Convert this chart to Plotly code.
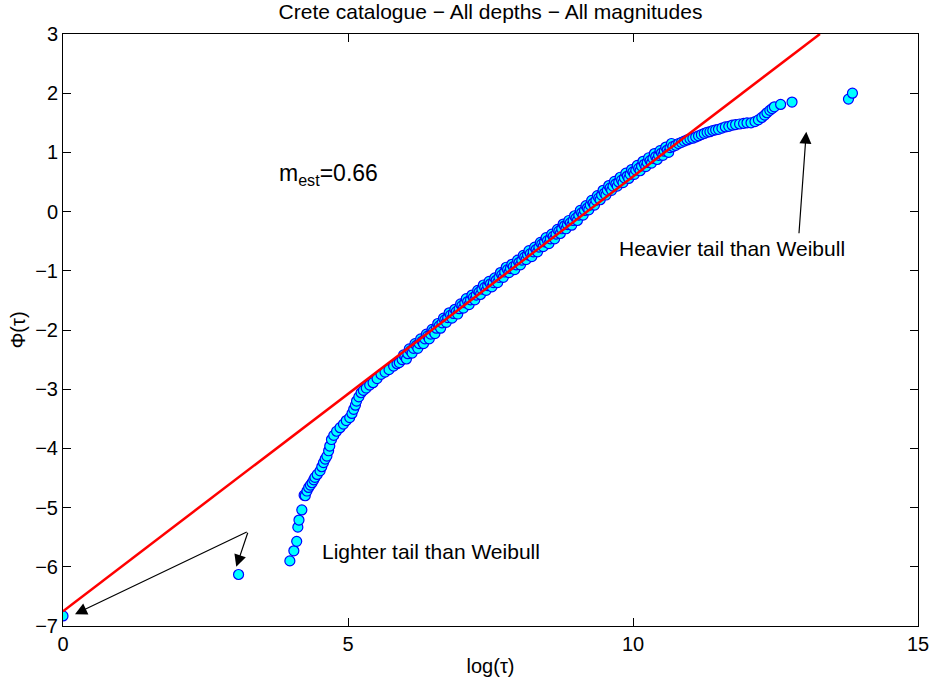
import plotly.graph_objects as go

# ---- data ----
tail_low_x = [0.00, 3.08, 3.98, 4.05, 4.10, 4.12, 4.14, 4.19, 4.23]
tail_low_y = [-6.83, -6.13, -5.90, -5.73, -5.57, -5.33, -5.21, -5.04, -4.79]

bend_x = [4.25, 4.28, 4.31, 4.34, 4.37, 4.40, 4.42, 4.46, 4.51, 4.54, 4.57, 4.60, 4.63,
          4.66, 4.68, 4.71, 4.75, 4.80, 4.86, 4.92, 4.97, 5.03, 5.07, 5.10, 5.13, 5.15,
          5.19, 5.23, 5.27, 5.32, 5.38, 5.44, 5.51, 5.58, 5.65, 5.72, 5.80, 5.86, 5.90]
bend_y = [-4.80, -4.72, -4.66, -4.62, -4.58, -4.53, -4.49, -4.44, -4.38, -4.31, -4.24, -4.18, -4.13,
          -4.04, -3.96, -3.85, -3.78, -3.71, -3.65, -3.59, -3.53, -3.48, -3.41, -3.34, -3.27, -3.20,
          -3.13, -3.06, -3.02, -2.98, -2.93, -2.89, -2.82, -2.75, -2.71, -2.67, -2.61, -2.57, -2.55]

mid_x = [5.95, 6.00, 6.05, 6.10, 6.15, 6.20, 6.25, 6.30, 6.35, 6.40, 6.45, 6.50, 6.55, 6.60,
         6.65, 6.70, 6.75, 6.80, 6.85, 6.90, 6.95, 7.00, 7.05, 7.10, 7.15, 7.20, 7.25, 7.30,
         7.35, 7.40, 7.45, 7.50, 7.55, 7.60, 7.65, 7.70, 7.75, 7.80, 7.85, 7.90, 7.95, 8.00,
         8.05, 8.10, 8.15, 8.20, 8.25, 8.30, 8.35, 8.40, 8.45, 8.50, 8.55, 8.60, 8.65, 8.70,
         8.75, 8.80, 8.85, 8.90, 8.95, 9.00, 9.05, 9.10, 9.15, 9.20, 9.25, 9.30, 9.35, 9.40,
         9.45, 9.50, 9.55, 9.60, 9.65, 9.70, 9.75, 9.80, 9.85, 9.90, 9.95, 10.00, 10.05, 10.10,
         10.15, 10.20, 10.25, 10.30, 10.35, 10.40, 10.45, 10.50, 10.55, 10.60, 10.65, 10.70]
mid_y = [-2.50, -2.45, -2.40, -2.35, -2.31, -2.26, -2.23, -2.19, -2.15, -2.10, -2.07, -2.02, -1.97, -1.93,
         -1.88, -1.83, -1.79, -1.75, -1.72, -1.69, -1.64, -1.59, -1.54, -1.52, -1.49, -1.45, -1.41, -1.36,
         -1.31, -1.28, -1.25, -1.22, -1.20, -1.16, -1.11, -1.07, -1.02, -0.98, -0.96, -0.93, -0.90, -0.86,
         -0.82, -0.77, -0.73, -0.71, -0.68, -0.64, -0.60, -0.55, -0.51, -0.49, -0.46, -0.42, -0.38, -0.33,
         -0.29, -0.24, -0.22, -0.19, -0.15, -0.11, -0.06, -0.02, 0.02, 0.06, 0.11, 0.14, 0.19, 0.23,
         0.28, 0.31, 0.36, 0.40, 0.43, 0.47, 0.50, 0.53, 0.57, 0.60, 0.63, 0.67, 0.70, 0.73,
         0.77, 0.80, 0.83, 0.86, 0.90, 0.93, 0.95, 0.99, 1.02, 1.04, 1.08, 1.10]

# second reading across the width of the dense band (upper / lower edges)
band_x = [5.975, 6.025, 6.075, 6.125, 6.175, 6.225, 6.275, 6.325, 6.375, 6.425, 6.475, 6.525,
          6.575, 6.625, 6.675, 6.725, 6.775, 6.825, 6.875, 6.925, 6.975, 7.025, 7.075, 7.125,
          7.175, 7.225, 7.275, 7.325, 7.375, 7.425, 7.475, 7.525, 7.575, 7.625, 7.675, 7.725,
          7.775, 7.825, 7.875, 7.925, 7.975, 8.025, 8.075, 8.125, 8.175, 8.225, 8.275, 8.325,
          8.375, 8.425, 8.475, 8.525, 8.575, 8.625, 8.675, 8.725, 8.775, 8.825, 8.875, 8.925,
          8.975, 9.025, 9.075, 9.125, 9.175, 9.225, 9.275, 9.325, 9.375, 9.425, 9.475, 9.525,
          9.575, 9.625, 9.675, 9.725, 9.775, 9.825, 9.875, 9.925, 9.975, 10.025, 10.075, 10.125,
          10.175, 10.225, 10.275, 10.325, 10.375, 10.425, 10.475, 10.525, 10.575, 10.625, 10.675]
band_y = [-2.42, -2.49, -2.32, -2.39, -2.23, -2.31, -2.15, -2.23, -2.07, -2.15, -1.99, -2.06,
          -1.89, -1.97, -1.80, -1.87, -1.71, -1.80, -1.65, -1.73, -1.56, -1.63, -1.47, -1.57,
          -1.41, -1.49, -1.33, -1.40, -1.24, -1.33, -1.18, -1.27, -1.12, -1.20, -1.03, -1.11,
          -0.94, -1.03, -0.89, -0.98, -0.82, -0.90, -0.74, -0.81, -0.66, -0.76, -0.60, -0.68,
          -0.52, -0.59, -0.44, -0.54, -0.38, -0.46, -0.30, -0.37, -0.21, -0.29, -0.15, -0.23,
          -0.07, -0.15, 0.02, -0.06, 0.10, 0.03, 0.19, 0.11, 0.27, 0.20, 0.36, 0.28,
          0.44, 0.36, 0.51, 0.43, 0.58, 0.49, 0.65, 0.56, 0.71, 0.63, 0.78, 0.69,
          0.85, 0.76, 0.91, 0.82, 0.98, 0.88, 1.03, 0.95, 1.09, 1.00, 1.15]

tail_high_x = [10.75, 10.80, 10.85, 10.90, 10.95, 11.00, 11.05, 11.10, 11.15, 11.20, 11.25, 11.30,
               11.35, 11.40, 11.45, 11.50, 11.56, 11.62, 11.68, 11.74, 11.80, 11.87, 11.94, 12.00,
               12.07, 12.14, 12.20, 12.26, 12.31, 12.35, 12.40, 12.44, 12.48, 12.59, 12.79, 13.78, 13.85]
tail_high_y = [1.12, 1.15, 1.17, 1.19, 1.21, 1.23, 1.24, 1.26, 1.28, 1.30, 1.32, 1.34,
               1.35, 1.37, 1.38, 1.39, 1.41, 1.43, 1.44, 1.46, 1.47, 1.48, 1.49, 1.50,
               1.50, 1.52, 1.55, 1.59, 1.63, 1.67, 1.71, 1.74, 1.77, 1.81, 1.85, 1.90, 2.00]

fit_x = [0.0, 13.28]
fit_y = [-6.75, 3.0]

x_ticks = [0, 5, 10, 15]
y_ticks = [3, 2, 1, 0, -1, -2, -3, -4, -5, -6, -7]

FONT = "Liberation Sans, Arial, sans-serif"

pairs = sorted(zip(tail_low_x + bend_x + mid_x + band_x + tail_high_x,
                   tail_low_y + bend_y + mid_y + band_y + tail_high_y))
data_x = [p[0] for p in pairs]
data_y = [p[1] for p in pairs]

fig = go.Figure()
fig.add_trace(go.Scatter(
    x=data_x, y=data_y, mode="markers",
    marker=dict(symbol="circle", size=10, color="#00FFFF",
                line=dict(color="#0000FF", width=1.2)),
    showlegend=False, hoverinfo="skip"))
fig.add_trace(go.Scatter(
    x=fit_x, y=fit_y, mode="lines",
    line=dict(color="#FF0000", width=2.5),
    showlegend=False, hoverinfo="skip"))

annotations = [
    dict(x=3.76, y=0.62, xref="x", yref="y", text="m<sub>est</sub>=0.66",
         showarrow=False, xanchor="left", yanchor="middle",
         font=dict(family=FONT, size=23, color="black")),
    dict(x=9.72, y=-0.63, xref="x", yref="y", text="Heavier tail than Weibull",
         showarrow=False, xanchor="left", yanchor="middle",
         font=dict(family=FONT, size=21, color="black")),
    dict(x=4.51, y=-5.74, xref="x", yref="y", text="Lighter tail than Weibull",
         showarrow=False, xanchor="left", yanchor="middle",
         font=dict(family=FONT, size=21, color="black")),
    # arrows
    dict(x=13.04, y=1.35, ax=12.91, ay=-0.39, xref="x", yref="y", axref="x", ayref="y",
         text="", showarrow=True, arrowhead=2, arrowsize=2, arrowwidth=1.2, arrowcolor="black"),
    dict(x=3.04, y=-6.0, ax=3.25, ay=-5.40, xref="x", yref="y", axref="x", ayref="y",
         text="", showarrow=True, arrowhead=2, arrowsize=2, arrowwidth=1.2, arrowcolor="black"),
    dict(x=0.21, y=-6.80, ax=3.25, ay=-5.40, xref="x", yref="y", axref="x", ayref="y",
         text="", showarrow=True, arrowhead=2, arrowsize=2, arrowwidth=1.2, arrowcolor="black"),
]

fig.update_layout(
    width=941, height=685,
    margin=dict(l=63, r=13, t=34, b=58),
    paper_bgcolor="white", plot_bgcolor="white",
    font=dict(family=FONT, size=20, color="black"),
    title=dict(text="Crete catalogue − All depths − All magnitudes",
               xref="paper", x=0.5, xanchor="center",
               yref="container", y=1 - 12 / 685, yanchor="middle",
               font=dict(family=FONT, size=21, color="black")),
    annotations=annotations,
)
fig.update_xaxes(
    range=[0, 15], tickvals=x_ticks, ticktext=[str(v) for v in x_ticks],
    showgrid=False, zeroline=False, showline=True, linecolor="black", linewidth=1,
    mirror="ticks", ticks="inside", ticklen=8, tickcolor="black",
    tickfont=dict(family=FONT, size=20),
    title=dict(text="log(τ)", font=dict(family=FONT, size=20), standoff=4))
fig.update_yaxes(
    range=[-7, 3], tickvals=y_ticks, ticktext=[("−" if v < 0 else "") + str(abs(v)) for v in y_ticks],
    showgrid=False, zeroline=False, showline=True, linecolor="black", linewidth=1,
    mirror="ticks", ticks="inside", ticklen=8, tickcolor="black",
    tickfont=dict(family=FONT, size=20),
    title=dict(text="Φ(τ)", font=dict(family=FONT, size=20), standoff=4))

fig.write_html("out.html")
